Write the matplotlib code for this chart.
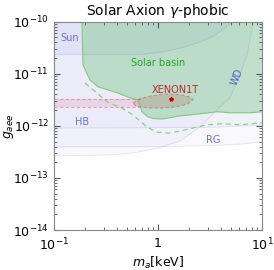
import matplotlib
matplotlib.use('Agg')
import matplotlib.pyplot as plt
import numpy as np

# all curves, stored as log10(m_a/keV), log10(g_aee)
basin_logm = [-0.731, -0.721, -0.654, -0.577, -0.481, -0.385, -0.288, -0.202, -0.173,
              -0.154, -0.10, -0.048, 0.038, 0.212, 0.404, 0.567, 0.692, 0.885, 1.0]
basin_logg = [-10.0, -10.83, -11.12, -11.25, -11.31, -11.37, -11.45, -11.50, -11.60,
              -11.73, -11.82, -11.86, -11.87, -11.81, -11.77, -11.73, -11.75, -11.75, -11.73]

dash_logm = [-0.702, -0.587, -0.490, -0.346, -0.240, -0.154, -0.106, -0.010, 0.096,
             0.212, 0.471, 0.625, 0.788, 1.0]
dash_logg = [-11.18, -11.37, -11.54, -11.66, -11.79, -11.94, -12.02, -12.12, -12.14,
             -12.10, -11.98, -11.96, -11.98, -11.94]

sun_logm = [-1.0, -0.173, 0.019, 0.212, 0.404, 0.548, 0.644, 0.712]
sun_logg = [-10.63, -10.63, -10.59, -10.51, -10.39, -10.26, -10.12, -10.0]

wd_logm = [-1.0, -0.5, -0.240, 0.019, 0.212, 0.404, 0.567, 0.692, 0.788, 0.856, 0.904, 0.923]
wd_logg = [-12.58, -12.56, -12.52, -12.42, -12.29, -12.02, -11.69, -11.46, -11.02, -10.64, -10.12, -10.0]

rg_logm = [-1.0, 0.0, 0.5, 0.8, 1.0]
rg_logg = [-12.40, -12.40, -12.38, -12.35, -12.31]

hb_logm = [-1.0, 0.5, 1.0]
hb_logg = [-12.04, -12.03, -11.98]

band_logm = [-1.0, -0.17]
band_lo, band_hi = -11.64, -11.48

xe_logm = [-0.240, -0.173, -0.077, 0.067, 0.212, 0.308, 0.337, 0.288, 0.163, 0.019, -0.125, -0.212, -0.240]
xe_logg = [-11.56, -11.48, -11.43, -11.39, -11.40, -11.45, -11.50, -11.58, -11.64, -11.66, -11.65, -11.62, -11.56]
xe_best = (0.125, -11.48)

blue = '#5a5ad0'
fig = plt.figure(figsize=(2.74, 2.70), dpi=100)
ax = fig.add_axes([0.197, 0.148, 0.759, 0.772])

def p(v):
    return 10 ** np.array(v)

top = 1e-10
for lm, lg in [(wd_logm, wd_logg), (rg_logm, rg_logg), (hb_logm, hb_logg)]:
    ax.fill_between(p(lm), p(lg), top, color=blue, alpha=0.04, lw=0)
    ax.plot(p(lm), p(lg), color=blue, alpha=0.12, lw=0.7)
ax.fill_between(p(sun_logm), p(sun_logg), top, color=blue, alpha=0.06, lw=0)
ax.plot(p(sun_logm), p(sun_logg), color=blue, alpha=0.15, lw=0.7)

bm = p(basin_logm + [1.0])
bg = p(basin_logg + [-10.0])
ax.fill(bm, bg, color='#3cb44b', alpha=0.27, lw=0)
ax.plot(p(basin_logm), p(basin_logg), color='#7ccc7c', lw=0.8)
ax.plot(p(dash_logm), p(dash_logg), color='#8ad08a', lw=0.9, ls=(0, (4, 3)))

ax.fill_between(p(band_logm), 10 ** band_lo, 10 ** band_hi, color='#e0406a', alpha=0.13, lw=0)
for b in (band_lo, band_hi):
    ax.plot(p(band_logm), [10 ** b] * 2, color='#d04060', alpha=0.4, lw=0.8, ls=(0, (3, 2)))
ax.fill(p(xe_logm), p(xe_logg), color='#b05040', alpha=0.2, lw=0)
ax.plot(p(xe_logm), p(xe_logg), color='#c04050', alpha=0.45, lw=0.8, ls=(0, (3, 2)))
ax.plot(10 ** xe_best[0], 10 ** xe_best[1], marker='*', color='#c00000', ms=3)

ax.text(10 ** -0.846, 10 ** -10.31, 'Sun', color='#7070d8', fontsize=7, ha='center', va='center')
ax.text(10 ** 0.0, 10 ** -10.79, 'Solar basin', color='#22aa22', fontsize=7, ha='center', va='center')
ax.text(10 ** 0.163, 10 ** -11.31, 'XENON1T', color='#c0282d', fontsize=7, ha='center', va='center')
ax.text(10 ** 0.76, 10 ** -11.06, 'WD', color='#5a5ad0', fontsize=7, ha='center', va='center', rotation=68)
ax.text(10 ** -0.73, 10 ** -11.92, 'HB', color='#7070d8', fontsize=7, ha='center', va='center')
ax.text(10 ** 0.529, 10 ** -12.27, 'RG', color='#7070d8', fontsize=7, ha='center', va='center')

ax.set_xscale('log')
ax.set_yscale('log')
ax.set_xlim(0.1, 10)
ax.set_ylim(1e-14, 1e-10)
ax.set_xticks([0.1, 1, 10])
ax.set_xticklabels(['$10^{-1}$', '1', '$10^{1}$'])
ax.set_yticks([1e-14, 1e-13, 1e-12, 1e-11, 1e-10])
ax.set_yticklabels(['$10^{-14}$', '$10^{-13}$', '$10^{-12}$', '$10^{-11}$', '$10^{-10}$'])
ax.tick_params(which='both', direction='in', top=True, right=True, labelsize=9, color='#555555')
ax.tick_params(which='major', length=4)
ax.tick_params(which='minor', length=2)
ax.tick_params(axis='x', pad=5)
for s in ax.spines.values():
    s.set_color('#888888')
    s.set_linewidth(0.8)

ax.set_title('Solar Axion $\\gamma$-phobic', fontsize=10, pad=5)
ax.set_xlabel('$m_a$[keV]', fontsize=9, labelpad=1)
ax.set_ylabel('$g_{aee}$', fontsize=9)
ax.yaxis.set_label_coords(-0.185, 0.5)

fig.savefig('out.png', dpi=100)
